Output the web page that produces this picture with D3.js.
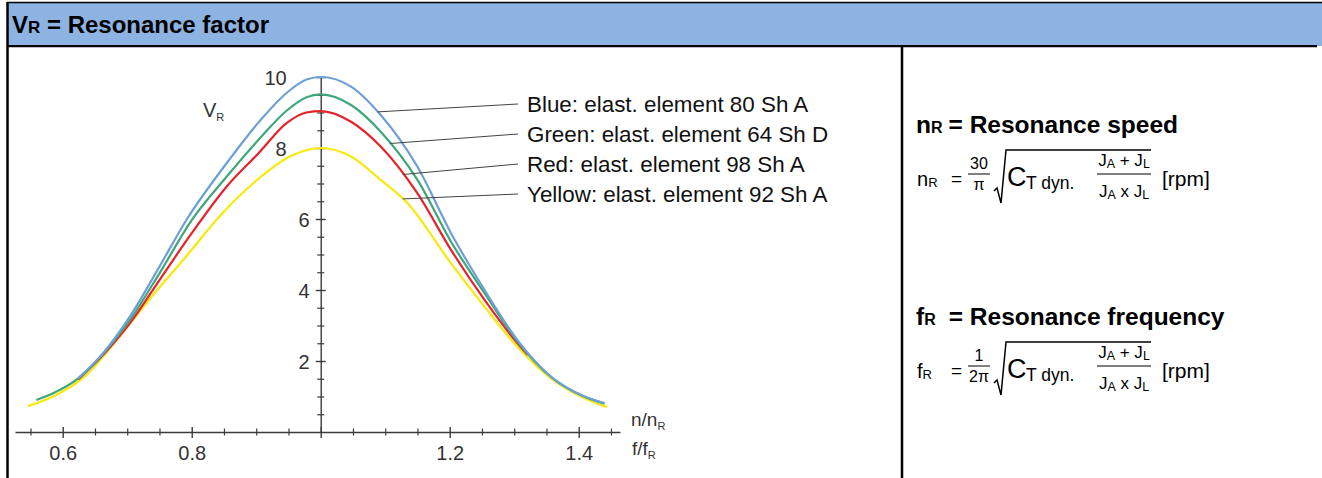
<!DOCTYPE html>
<html>
<head>
<meta charset="utf-8">
<script src="https://cdn.jsdelivr.net/npm/d3@7"></script>
<style>
  body { margin: 0; background: #fff; }
  svg { display: block; font-family: "Liberation Sans", Arial, sans-serif; }
</style>
</head>
<body>
<svg id="chart" width="1322" height="478"></svg>
<script>
// values (x = n/nR, v = VR)
const blueX = [0.624, 0.6625, 0.704, 0.75, 0.792, 0.854, 0.905, 0.947, 0.978, 1.0, 1.047, 1.093, 1.15, 1.202, 1.254, 1.305, 1.357, 1.409, 1.44];
const blueV = [1.51, 2.22, 3.25, 4.66, 5.98, 7.57, 8.75, 9.55, 9.93, 10.0, 9.73, 8.93, 7.47, 5.60, 4.00, 2.59, 1.56, 1.00, 0.81];

const greenX = [0.559, 0.585, 0.624, 0.6625, 0.704, 0.75, 0.80, 0.854, 0.905, 0.947, 0.978, 1.0, 1.047, 1.093, 1.15, 1.202, 1.254, 1.305, 1.357, 1.409, 1.44];
const greenV = [0.90, 1.09, 1.51, 2.20, 3.15, 4.47, 5.97, 7.19, 8.26, 9.05, 9.43, 9.51, 9.21, 8.46, 7.10, 5.36, 3.91, 2.55, 1.55, 0.99, 0.80];

const redX = [0.624, 0.6625, 0.704, 0.75, 0.80, 0.854, 0.905, 0.947, 0.978, 1.0, 1.047, 1.093, 1.15, 1.202, 1.254, 1.305, 1.321];
const redV = [1.48, 2.17, 3.06, 4.28, 5.60, 6.91, 7.88, 8.70, 9.00, 9.04, 8.74, 8.04, 6.72, 5.13, 3.72, 2.50, 2.17];

const yellowX = [0.546, 0.585, 0.637, 0.688, 0.740, 0.792, 0.843, 0.895, 0.957, 1.0, 1.047, 1.093, 1.135, 1.202, 1.254, 1.305, 1.357, 1.409, 1.444];
const yellowV = [0.73, 1.00, 1.61, 2.69, 3.86, 4.96, 6.07, 7.00, 7.80, 8.00, 7.76, 7.10, 6.44, 4.75, 3.53, 2.40, 1.51, 0.95, 0.70];

const legendLabels = ["Blue: elast. element 80 Sh A", "Green: elast. element 64 Sh D", "Red: elast. element 98 Sh A", "Yellow: elast. element 92 Sh A"];
const leaderAt = [1.088, 1.107, 1.127, 1.127];

const xMajorTicks = [0.6, 0.8, 1.0, 1.2, 1.4];
const xMinorTicks = [0.55, 0.65, 0.7, 0.75, 0.85, 0.9, 0.95, 1.05, 1.1, 1.15, 1.25, 1.3, 1.35, 1.45];
const yMajorTicks = [2, 4, 6, 8, 10];
const yMinorTicks = [0.5, 1, 1.5, 2.5, 3, 3.5, 4.5, 5, 5.5, 6.5, 7, 7.5, 8.5, 9, 9.5];

const svg = d3.select("#chart");
const W = 1322, H = 478;

// table frame
svg.append("rect").attr("x", 7).attr("y", 2).attr("width", W - 7).attr("height", 44).attr("fill", "#8db3e2");
svg.append("line").attr("x1", 7).attr("x2", W).attr("y1", 2.5).attr("y2", 2.5).attr("stroke", "#000").attr("stroke-width", 1.5);
svg.append("line").attr("x1", 7.5).attr("x2", 7.5).attr("y1", 2).attr("y2", H).attr("stroke", "#000").attr("stroke-width", 2.5);
svg.append("line").attr("x1", 7).attr("x2", 1317).attr("y1", 46.2).attr("y2", 46.2).attr("stroke", "#000").attr("stroke-width", 2.3);
svg.append("line").attr("x1", 902).attr("x2", 902).attr("y1", 46).attr("y2", H).attr("stroke", "#000").attr("stroke-width", 2.5);

const header = svg.append("text").attr("x", 12).attr("y", 33).attr("font-weight", "bold").attr("font-size", 24).attr("fill", "#000");
header.append("tspan").text("V");
header.append("tspan").attr("font-size", 17).text("R");
header.append("tspan").text(" = Resonance factor");

// scales
const x = d3.scaleLinear().domain([0.526, 1.464]).range([15, 620]);
const y = d3.scaleLinear().domain([0, 10]).range([432, 77]);

const axisColor = "#3c3c3c";

// x axis
svg.append("g")
  .attr("transform", `translate(0,${y(0)})`)
  .attr("color", axisColor)
  .call(d3.axisBottom(x).tickValues(xMinorTicks).tickSize(4).tickSizeOuter(0).tickFormat(""))
  .call(g => g.select(".domain").remove())
  .call(g => g.selectAll(".tick line").attr("y1", -3.5).attr("y2", 3.5).attr("stroke-width", 1.2));

svg.append("g")
  .attr("transform", `translate(0,${y(0)})`)
  .attr("color", axisColor)
  .call(d3.axisBottom(x).tickValues(xMajorTicks).tickSize(6).tickSizeOuter(0)
    .tickFormat(d => d === 1 ? "" : d3.format(".1f")(d)))
  .call(g => g.select(".domain").attr("stroke-width", 1.4))
  .call(g => g.selectAll(".tick line").attr("y1", -5).attr("y2", 6).attr("stroke-width", 1.4))
  .call(g => g.selectAll(".tick text").attr("y", 28).attr("dy", 0)
    .attr("font-size", 20).attr("font-family", "Liberation Sans, Arial, sans-serif").attr("fill", "#333"));

// y axis
svg.append("g")
  .attr("transform", `translate(${x(1)},0)`)
  .attr("color", axisColor)
  .call(d3.axisLeft(y).tickValues(yMinorTicks).tickSize(4).tickSizeOuter(0).tickFormat(""))
  .call(g => g.select(".domain").remove())
  .call(g => g.selectAll(".tick line").attr("x1", 3.5).attr("x2", -3.5).attr("stroke-width", 1.2));

svg.append("g")
  .attr("transform", `translate(${x(1)},0)`)
  .attr("color", axisColor)
  .call(d3.axisLeft(y).tickValues(yMajorTicks).tickSize(5).tickSizeOuter(0))
  .call(g => g.select(".domain").attr("stroke-width", 1.4))
  .call(g => g.selectAll(".tick line").attr("x1", 5).attr("x2", -5).attr("stroke-width", 1.4))
  .call(g => g.selectAll(".tick text").attr("x", d => d >= 8 ? -34 : -11).attr("dy", "0.36em")
    .attr("font-size", 20).attr("font-family", "Liberation Sans, Arial, sans-serif").attr("fill", "#333"));

// axis titles
const vr = svg.append("text").attr("x", 203).attr("y", 117).attr("font-size", 20).attr("fill", "#333");
vr.append("tspan").text("V");
vr.append("tspan").attr("font-size", 11).attr("dy", 4).text("R");

const nr = svg.append("text").attr("x", 631).attr("y", 426).attr("font-size", 19).attr("fill", "#333");
nr.append("tspan").text("n/n");
nr.append("tspan").attr("font-size", 11).attr("dy", 4).text("R");

const fr = svg.append("text").attr("x", 632).attr("y", 455).attr("font-size", 19).attr("fill", "#333");
fr.append("tspan").text("f/f");
fr.append("tspan").attr("font-size", 11).attr("dy", 4).text("R");

// curves
const series = [
  { xs: yellowX, vs: yellowV, color: "#f7ea0a" },
  { xs: redX, vs: redV, color: "#e6232b" },
  { xs: greenX, vs: greenV, color: "#3fa67a" },
  { xs: blueX, vs: blueV, color: "#6e9fd6" }
];

const line = d3.line()
  .x(d => x(d[0]))
  .y(d => y(d[1]))
  .curve(d3.curveMonotoneX);

svg.append("g")
  .selectAll("path")
  .data(series)
  .join("path")
  .attr("fill", "none")
  .attr("stroke", d => d.color)
  .attr("stroke-width", 2.2)
  .attr("stroke-linejoin", "round")
  .attr("d", d => line(d.xs.map((v, i) => [v, d.vs[i]])));

// legend with leader lines
function valueAt(xs, vs, xv) {
  const i = Math.max(1, Math.min(xs.length - 1, d3.bisectLeft(xs, xv)));
  const t = (xv - xs[i - 1]) / (xs[i] - xs[i - 1]);
  return vs[i - 1] + t * (vs[i] - vs[i - 1]);
}

const legendSeries = [series[3], series[2], series[1], series[0]];
const legendTop = 112, legendStep = 30;

legendLabels.forEach((label, i) => {
  const s = legendSeries[i];
  const by = legendTop + i * legendStep;
  const ax = leaderAt[i];
  svg.append("line")
    .attr("x1", x(ax)).attr("y1", y(valueAt(s.xs, s.vs, ax)))
    .attr("x2", 518).attr("y2", by - 8)
    .attr("stroke", "#444").attr("stroke-width", 1);
  svg.append("text")
    .attr("x", 527).attr("y", by)
    .attr("font-size", 22.4).attr("fill", "#111")
    .text(label);
});

// formula panel
function formula(top, sym, numTxt, denTxt) {
  const g = svg.append("g").attr("transform", `translate(0,${top})`);
  const head = g.append("text").attr("x", 916).attr("y", 0).attr("font-weight", "bold").attr("font-size", 24.5);
  head.append("tspan").text(sym);
  head.append("tspan").attr("font-size", 16).text("R");
  head.append("tspan").attr("dx", sym === "f" ? 13 : 6).text("= Resonance " + (sym === "f" ? "frequency" : "speed"));

  const b = 53;
  const t1 = g.append("text").attr("x", 917).attr("y", b).attr("font-size", 20);
  t1.append("tspan").text(sym);
  t1.append("tspan").attr("font-size", 13).attr("dy", 1).text("R");
  g.append("text").attr("x", 951).attr("y", b - 1).attr("font-size", 19).text("=");

  g.append("text").attr("x", 979).attr("y", b - 17).attr("font-size", 16).attr("text-anchor", "middle").text(numTxt);
  g.append("line").attr("x1", 968).attr("x2", 990).attr("y1", b - 12).attr("y2", b - 12).attr("stroke", "#000").attr("stroke-width", 1);
  g.append("text").attr("x", 979).attr("y", b + 4).attr("font-size", 16).attr("text-anchor", "middle").text(denTxt);

  g.append("path")
    .attr("d", `M994,${b + 5} L997,${b + 2} L1001,${b + 17} L1006,${b - 36} L1151,${b - 36}`)
    .attr("fill", "none").attr("stroke", "#000").attr("stroke-width", 1.5);

  g.append("text").attr("x", 1007).attr("y", b).attr("font-size", 27).text("C");
  g.append("text").attr("x", 1026).attr("y", b + 3).attr("font-size", 17.5).text("T dyn.");

  const num = g.append("text").attr("x", 1124).attr("y", b - 20).attr("font-size", 17).attr("text-anchor", "middle");
  num.append("tspan").text("J");
  num.append("tspan").attr("font-size", 12.5).attr("dy", 2).text("A");
  num.append("tspan").attr("dy", -2).text(" + J");
  num.append("tspan").attr("font-size", 12.5).attr("dy", 2).text("L");
  g.append("line").attr("x1", 1097).attr("x2", 1151).attr("y1", b - 12).attr("y2", b - 12).attr("stroke", "#000").attr("stroke-width", 1);
  const den = g.append("text").attr("x", 1124).attr("y", b + 11).attr("font-size", 17).attr("text-anchor", "middle");
  den.append("tspan").text("J");
  den.append("tspan").attr("font-size", 12.5).attr("dy", 2).text("A");
  den.append("tspan").attr("dy", -2).text(" x J");
  den.append("tspan").attr("font-size", 12.5).attr("dy", 2).text("L");

  g.append("text").attr("x", 1162).attr("y", b).attr("font-size", 21).text("[rpm]");
}

formula(133, "n", "30", "\u03c0");
formula(325, "f", "1", "2\u03c0");
</script>
</body>
</html>
